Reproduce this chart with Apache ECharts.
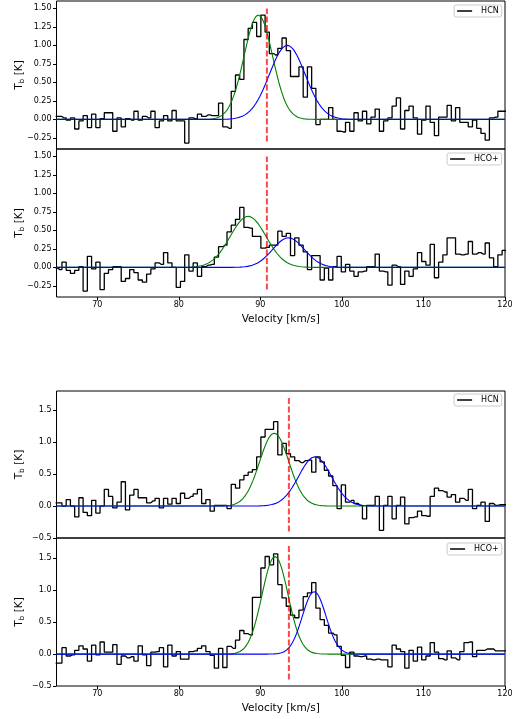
<!DOCTYPE html>
<html>
<head>
<meta charset="utf-8">
<script src="https://cdn.jsdelivr.net/npm/echarts@6/dist/echarts.min.js"></script>
<style>
  html, body { margin: 0; padding: 0; background: #fff; }
  #chart { width: 518px; height: 719px; }
</style>
</head>
<body>
<div id="chart"></div>
<script>
// Spectral channel grid (km/s)
const velStart = 64.89;
const velStep = 0.519;

// Brightness temperature per channel [K]
const hcnA = [0.04,
  0.04, 0.02, -0.01, 0.02, -0.13, -0.02, 0.05, -0.11, 0.07, -0.11, 0.01, 0.09, 0.09, -0.16, 0.02, -0.10,
  0.01, -0.01, 0.11, -0.01, 0.04, 0.02, 0.11, -0.11, -0.02, 0.05, -0.02, 0.12, -0.02, -0.02, -0.32,
  0.02, 0.01, 0.07, 0.04, 0.06, 0.05, 0.05, 0.22, -0.10, -0.12, 0.38, 0.60, 0.54, 1.08, 1.23, 1.31, 1.12, 1.41,
  1.18, 0.89, 0.87, 0.96, 1.10, 0.93, 0.58, 0.58, 0.71, 0.30, 0.71, 0.42, -0.07,
  0.00, 0.00, 0.16, 0.00, -0.16, -0.17, -0.04, -0.16, 0.09, -0.02, 0.11, -0.06, 0.03, 0.14, -0.16,
  -0.02, 0.02, 0.18, 0.29, -0.13, 0.12, 0.18, 0.02, -0.20, -0.01, 0.18, -0.04, -0.22, 0.03, 0.03,
  0.19, -0.02, 0.16, -0.04, -0.04, -0.10, -0.01, -0.12, -0.19, -0.28, 0.02, 0.03, 0.11, 0.11, 0.10];
const hcoA = [-0.01,
  -0.03, 0.07, -0.04, -0.08, -0.04, 0.01, -0.32, 0.15, -0.02, 0.07, -0.30, -0.08, -0.03, 0.01, 0.01,
  -0.19, -0.15, -0.03, -0.07, -0.17, -0.20, -0.09, -0.02, 0.06, 0.04, 0.20, 0.06, 0.00, -0.27, -0.19,
  0.17, -0.05, 0.06, -0.12, 0.01, 0.03, 0.04, 0.14, 0.28, 0.30, 0.48, 0.57, 0.65, 0.81, 0.54, 0.53, 0.42, 0.42,
  0.26, 0.27, 0.30, 0.30, 0.49, 0.42, 0.46, 0.16, 0.40, 0.30, 0.21, -0.03, 0.16, 0.16, -0.17, -0.01,
  -0.17, 0.01, 0.15, -0.06, 0.04, -0.05, -0.12, -0.06, -0.05, 0.01, 0.01, 0.18, -0.05, -0.06, -0.24,
  0.03, 0.01, -0.23, -0.05, -0.12, -0.02, 0.20, 0.08, 0.03, 0.31, -0.14, 0.07, 0.17, 0.40, 0.40,
  0.18, 0.17, 0.18, 0.35, 0.18, 0.20, 0.18, 0.33, 0.13, 0.01, 0.17, 0.23, 0.20];
const hcnB = [0.05,
  0.05, 0.00, 0.10, 0.00, -0.17, 0.13, -0.10, -0.15, 0.09, -0.11, 0.00, 0.26, 0.15, -0.03, 0.06, 0.38,
  -0.06, 0.17, 0.26, 0.13, 0.13, 0.05, 0.08, 0.12, -0.03, 0.12, 0.03, 0.12, 0.04, 0.20, 0.12, 0.15,
  0.19, 0.26, 0.04, 0.10, -0.08, 0.01, 0.01, 0.01, -0.04, 0.34, 0.28, 0.41, 0.48, 0.53, 0.57, 0.77,
  1.08, 1.20, 1.20, 1.32, 0.80, 0.98, 0.82, 0.77, 0.71, 0.68, 0.71, 0.72, 0.53, 0.77, 0.69, 0.56,
  0.47, 0.32, -0.04, 0.33, 0.06,
  0.09, 0.04, 0.01, -0.20, 0.01, 0.01, 0.15, -0.38, 0.01, 0.15, -0.20, 0.01, 0.14, -0.28, -0.18,
  -0.17, -0.08, -0.15, -0.16, 0.15, 0.28, 0.24, 0.22, 0.14, 0.18, 0.06, 0.12, 0.09, 0.26, -0.04,
  0.01, 0.06, -0.24, 0.04, 0.01, 0.02, 0.02, 0.02];
const hcoB = [-0.14,
  -0.14, 0.10, -0.03, -0.01, 0.06, 0.13, 0.08, -0.11, 0.14, -0.01, 0.19, 0.03, 0.03, 0.15, -0.16,
  -0.03, -0.06, -0.04, -0.11, 0.13, -0.01, -0.18, 0.03, 0.04, 0.10, -0.20, 0.14, -0.03, 0.04, -0.08,
  -0.08, 0.04, 0.05, 0.09, 0.13, 0.04, -0.02, -0.22, 0.09, -0.21, 0.12, 0.09, 0.22, 0.37, 0.32, 0.30,
  0.89, 0.89, 1.35, 1.53, 1.40, 1.57, 1.09, 0.88, 0.75, 0.61, 0.57, 0.69, 0.90, 0.96, 1.12, 0.72,
  0.54, 0.45, 0.33, 0.30, 0.12,
  -0.02, -0.21, 0.03, -0.03, -0.04, -0.03, -0.08, -0.09, -0.08, -0.09, -0.09, -0.20, 0.14, 0.08,
  0.04, -0.22, 0.06, -0.11, 0.11, -0.09, -0.03, 0.18, 0.03, -0.07, -0.09, 0.05, -0.06, -0.09, 0.04,
  0.18, 0.19, -0.04, 0.06, 0.06, 0.08, 0.08, 0.05, 0.05, 0.05, 0.05];

// Gaussian fit components: [amplitude K, centre km/s, sigma km/s]
const hcnAFit1 = [1.41, 89.75, 1.75];
const hcnAFit2 = [1.00, 93.30, 2.20];
const hcoAFit1 = [0.69, 88.50, 2.20];
const hcoAFit2 = [0.40, 93.45, 1.95];
const hcnBFit1 = [1.14, 91.70, 1.80];
const hcnBFit2 = [0.77, 96.70, 2.00];
const hcoBFit1 = [1.53, 91.80, 1.60];
const hcoBFit2 = [0.98, 96.60, 1.45];

// Systemic velocity markers: [velocity, low K, high K]
const vsysA = [90.8, -0.30, 1.50];
const vsysB = [93.5, -0.40, 1.70];

// Axis ticks
const xTicks = [70, 80, 90, 100, 110, 120];
const yTicksA = [-0.25, 0, 0.25, 0.5, 0.75, 1.0, 1.25, 1.5];
const yTicksB = [-0.5, 0, 0.5, 1.0, 1.5];

const FONT = 'DejaVu Sans';

function channels(values) {
  return values.map((t, i) => [velStart + i * velStep, t]);
}
function gaussian(p) {
  const pts = [];
  for (let i = 0; i <= 1100; i++) {
    const v = 65 + i * 0.05;
    pts.push([v, p[0] * Math.exp(-0.5 * Math.pow((v - p[1]) / p[2], 2))]);
  }
  return pts;
}
function fmt(digits) {
  return v => (v < 0 ? '\u2212' : '') + Math.abs(v).toFixed(digits);
}

const left = 56.5, width = 448.5;
const panels = [
  { top: 1,   height: 148, ymin: -0.40, ymax: 1.60, ticks: yTicksA, dig: 2, name: 'HCN',  data: hcnA, f1: hcnAFit1, f2: hcnAFit2, vs: vsysA, xlab: false, legTop: 5   },
  { top: 149, height: 148, ymin: -0.40, ymax: 1.60, ticks: yTicksA, dig: 2, name: 'HCO+', data: hcoA, f1: hcoAFit1, f2: hcoAFit2, vs: vsysA, xlab: true,  legTop: 153 },
  { top: 391, height: 147, ymin: -0.50, ymax: 1.80, ticks: yTicksB, dig: 1, name: 'HCN',  data: hcnB, f1: hcnBFit1, f2: hcnBFit2, vs: vsysB, xlab: false, legTop: 394 },
  { top: 538, height: 148, ymin: -0.50, ymax: 1.82, ticks: yTicksB, dig: 1, name: 'HCO+', data: hcoB, f1: hcoBFit1, f2: hcoBFit2, vs: vsysB, xlab: true,  legTop: 543 }
];

const option = {
  animation: false,
  backgroundColor: '#fff',
  grid: [], xAxis: [], yAxis: [], series: [], legend: []
};

panels.forEach((p, i) => {
  option.grid.push({
    left: left, top: p.top, width: width, height: p.height,
    containLabel: false, outerBoundsMode: 'none',
    show: true, borderColor: '#000', borderWidth: 1, backgroundColor: 'transparent'
  });
  option.xAxis.push({
    type: 'value', gridIndex: i, min: 65, max: 120, position: 'bottom',
    axisLine: { show: false, onZero: false },
    splitLine: { show: false },
    axisTick: { show: p.xlab, customValues: xTicks, length: 3.5, lineStyle: { color: '#000', width: 1 } },
    axisLabel: { show: p.xlab, customValues: xTicks, margin: 4, color: '#000', fontSize: 8, fontFamily: FONT },
    name: p.xlab ? 'Velocity [km/s]' : '',
    nameLocation: 'middle', nameGap: 17,
    nameTextStyle: { color: '#000', fontSize: 10.5, fontFamily: FONT }
  });
  option.yAxis.push({
    type: 'value', gridIndex: i, min: p.ymin, max: p.ymax, position: 'left',
    axisLine: { show: false, onZero: false },
    splitLine: { show: false },
    axisTick: { show: true, customValues: p.ticks, length: 3.5, lineStyle: { color: '#000', width: 1 } },
    axisLabel: { customValues: p.ticks, margin: 5, color: '#000', fontSize: 8, fontFamily: FONT, formatter: fmt(p.dig) },
    name: '{t|T}{s|b}{t| [K]}',
    nameLocation: 'middle', nameRotate: 90, nameGap: 30, nameMoveOverlap: false,
    nameTextStyle: {
      color: '#000', fontSize: 10.5, fontFamily: FONT,
      rich: {
        t: { fontSize: 10.5, fontFamily: FONT, color: '#000', lineHeight: 14, verticalAlign: 'middle' },
        s: { fontSize: 7.5, fontFamily: FONT, color: '#000', lineHeight: 8, verticalAlign: 'bottom' }
      }
    }
  });
  option.series.push({
    type: 'line', name: p.name, xAxisIndex: i, yAxisIndex: i,
    data: channels(p.data), step: 'middle', symbol: 'none',
    lineStyle: { color: '#000', width: 1.3 }, itemStyle: { color: '#000' }
  });
  option.series.push({
    type: 'line', name: p.name + ' fit 1', xAxisIndex: i, yAxisIndex: i,
    data: gaussian(p.f1), symbol: 'none',
    lineStyle: { color: '#008000', width: 1.1 }, itemStyle: { color: '#008000' }
  });
  option.series.push({
    type: 'line', name: p.name + ' fit 2', xAxisIndex: i, yAxisIndex: i,
    data: gaussian(p.f2), symbol: 'none',
    lineStyle: { color: '#0000ff', width: 1.1 }, itemStyle: { color: '#0000ff' }
  });
  option.series.push({
    type: 'line', name: 'vsys', xAxisIndex: i, yAxisIndex: i,
    data: [[p.vs[0], p.vs[1]], [p.vs[0], p.vs[2]]], symbol: 'none',
    lineStyle: { color: 'rgba(255,0,0,0.72)', width: 2, type: [6, 2.5] }
  });
  option.legend.push({
    data: [{ name: p.name, icon: 'rect' }],
    right: 16.3, top: p.legTop,
    itemWidth: 15, itemHeight: 1.5,
    padding: [2, 3, 2, 3],
    borderColor: '#cccccc', borderWidth: 1, borderRadius: 2,
    backgroundColor: 'rgba(255,255,255,0.8)',
    selectedMode: false,
    textStyle: { color: '#000', fontSize: 8, fontFamily: FONT, padding: [0, 0, 0, 4] }
  });
});

const chart = echarts.init(document.getElementById('chart'), null, { renderer: 'canvas' });
chart.setOption(option);
</script>
</body>
</html>
